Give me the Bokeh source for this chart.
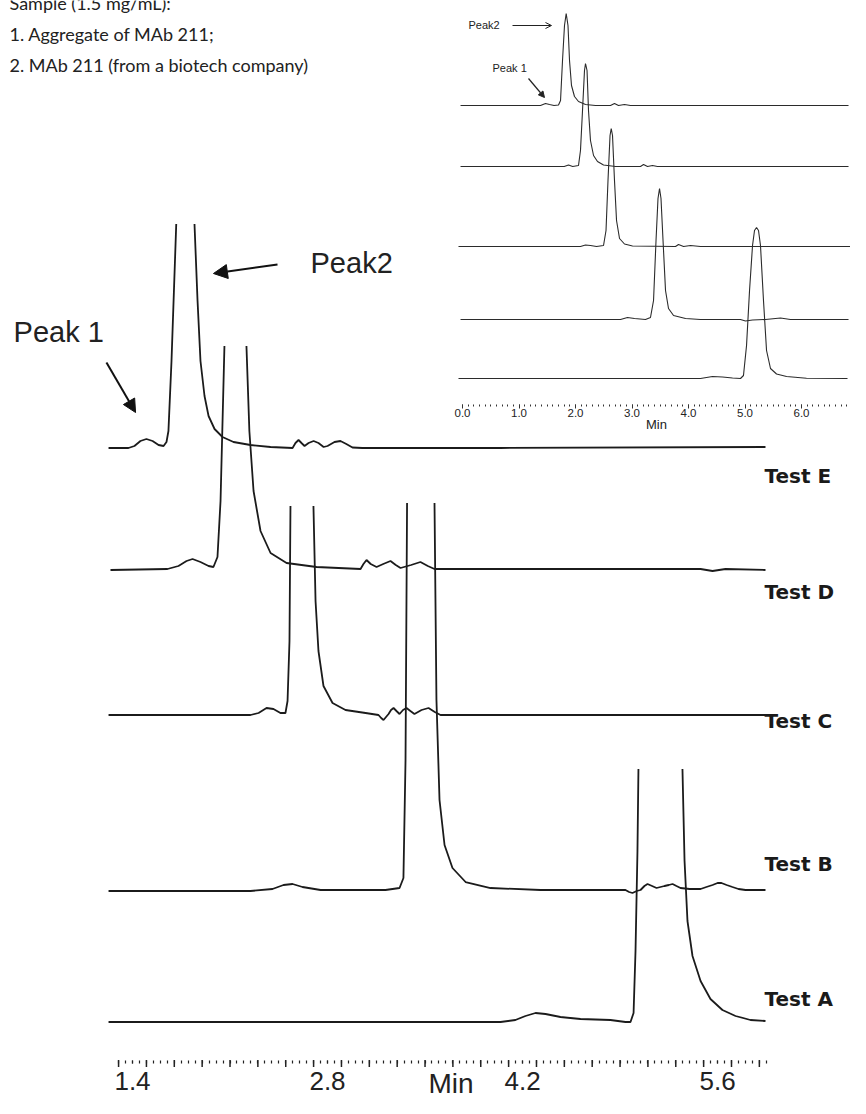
import numpy as np
from bokeh.plotting import figure
from bokeh.models import (Range1d, LinearAxis, FixedTicker, NumeralTickFormatter,
                          Arrow, NormalHead, OpenHead)
from bokeh.core.properties import value
from bokeh.embed import file_html
from bokeh.resources import INLINE

# ---------------- main chromatograms (time in min, signal in arbitrary mAU) ----------------
tests = ["Test E", "Test D", "Test C", "Test B", "Test A"]
stack_offsets = [612, 490, 345, 170, 38]          # vertical offset of each stacked trace
# None = trace goes off the top of the plot (truncated main peak)
e_time = [1.228, 1.371, 1.414, 1.457, 1.500, 1.544, 1.587, 1.623, 1.644, 1.658, 1.680, 1.714, None,
          1.845, 1.867, 1.888, 1.917, 1.946, 1.989, 2.046, 2.125, 2.247, 2.391, 2.549, 2.570, 2.592,
          2.613, 2.635, 2.664, 2.700, 2.735, 2.772, 2.800, 2.850, 2.893, 2.935, 2.979, 3.050,
          4.042, 5.944]
e_signal = [0, 0, 2, 7, 9, 7, 3, 2, 6, 17, 87, 224, None,
            224, 147, 87, 52, 32, 19, 11, 6, 3, 1, 0, 5, 8,
            5, 2, 5, 7, 5, 1, 2, 6, 7, 4, 0.5, 0,
            0, 1]
d_time = [1.242, 1.651, 1.730, 1.788, 1.831, 1.888, 1.946, 1.981, 2.010, 2.032, 2.060, None,
          2.218, 2.239, 2.269, 2.319, 2.391, 2.506, 2.721, 3.037, 3.058, 3.080, 3.110, 3.152, 3.200,
          3.252, 3.290, 3.324, 3.400, 3.467, 3.520, 3.568, 4.760, 5.478, 5.564, 5.657, 5.944]
d_signal = [0, 1, 4, 9, 11, 8, 4, 3, 13, 69, 224, None,
            224, 139, 79, 39, 17, 7, 3, 1, 6, 10, 6, 3, 6,
            9, 5, 2, 5, 8, 4, 1, 1, 1, -1, 1, 0]
c_time = [1.228, 2.247, 2.305, 2.362, 2.412, 2.462, 2.498, 2.513, 2.527, 2.534, None,
          2.699, 2.714, 2.735, 2.771, 2.836, 2.929, 3.073, 3.166, 3.185, 3.202, 3.220, 3.238, 3.256,
          3.274, 3.295, 3.317, 3.342, 3.367, 3.395, 3.424, 3.475, 3.525, 3.570, 3.611, 5.944]
c_signal = [0, 0, 2, 7, 6, 2, 2, 14, 74, 209, None,
            209, 114, 64, 29, 12, 5, 2, 0, -3, -5, -2, 1, 5,
            7, 4, 1, 5, 7, 4, 1, 5, 7, 3, 0, 0]
b_time = [1.228, 2.247, 2.405, 2.484, 2.549, 2.620, 2.750, 3.216, 3.317, 3.345, 3.360, 3.371, None,
          3.568, 3.582, 3.604, 3.640, 3.697, 3.791, 3.970, 4.329, 4.939, 4.965, 4.989, 5.020, 5.047,
          5.075, 5.097, 5.130, 5.162, 5.190, 5.219, 5.250, 5.277, 5.305, 5.334, 5.400, 5.478, 5.520,
          5.564, 5.600, 5.628, 5.665, 5.707, 5.750, 5.801, 5.944]
b_signal = [-1, -1, 1, 5, 6, 3, 0, 0, 2, 12, 130, 387, None,
            387, 190, 90, 45, 22, 8, 2, 0, 0, -2, -3, -1, 0,
            4, 6, 4, 2, 3, 4, 5, 6, 4, 2, 1, 1, 3,
            5, 7, 7, 5, 3, 1, 0, 0]
a_time = [1.228, 4.042, 4.149, 4.221, 4.293, 4.365, 4.472, 4.616, 4.831, 4.939, 4.975, 4.997, 5.011,
          5.025, 5.032, None,
          5.348, 5.363, 5.384, 5.420, 5.478, 5.549, 5.635, 5.729, 5.836, 5.944]
a_signal = [0, 0, 2, 6, 9, 8, 5, 3, 2, 0, 0, 9, 71, 171, 253, None,
            253, 161, 101, 66, 41, 23, 12, 6, 2, 1]
main_times = [e_time, d_time, c_time, b_time, a_time]
main_signals = [e_signal, d_signal, c_signal, b_signal, a_signal]
main_tick_labels = [1.4, 2.8, 4.2, 5.6]

# ---------------- inset chromatograms (full run) ----------------
inset_offsets = [299, 238, 158, 85, 26]
ie_time = [-0.035, 1.381, 1.469, 1.540, 1.620, 1.699, 1.735, 1.770, 1.805, 1.835, 1.867, 1.894,
           1.929, 1.982, 2.053, 2.177, 2.354, 2.619, 2.690, 2.761, 2.867, 2.973, 6.832]
ie_signal = [0, 0, 2, 1, 0, 0.5, 5, 45, 80, 92, 80, 45, 20, 9, 4, 1, 0, 0, 2, 0, 1, 0, 0]
id_time = [-0.035, 1.800, 1.876, 1.950, 2.053, 2.088, 2.124, 2.159, 2.177, 2.204, 2.230, 2.265,
           2.319, 2.389, 2.496, 2.708, 3.150, 3.204, 3.274, 3.363, 3.450, 6.832]
id_signal = [0, 0, 1.5, 0, 1, 16, 56, 96, 103, 96, 56, 26, 11, 5, 1.5, 0, 0, 2, 0, 1, 0, 0]
ic_time = [-0.071, 2.088, 2.177, 2.265, 2.372, 2.496, 2.540, 2.575, 2.611, 2.632, 2.655, 2.690,
           2.726, 2.779, 2.867, 3.009, 3.770, 3.823, 3.912, 4.035, 4.212, 6.885]
ic_signal = [0, 0, 1.5, 1, 0, 1, 16, 66, 111, 118, 111, 66, 26, 8, 2.5, 0.5, 0, 2, 0, 1, 0, 0]
ib_time = [-0.035, 2.796, 2.920, 3.044, 3.239, 3.327, 3.381, 3.425, 3.460, 3.487, 3.513, 3.549,
           3.593, 3.646, 3.735, 3.947, 4.212, 4.920, 5.009, 5.133, 5.363, 5.628, 5.805, 6.832]
ib_signal = [0, 0, 2, 1, 0, 2, 19, 79, 121, 131, 121, 79, 29, 11, 4, 1, 0, 0, -1.5, -0.5, 0,
             1.5, 0, 0]
ia_time = [-0.071, 4.212, 4.425, 4.602, 4.779, 4.920, 4.973, 5.027, 5.080, 5.133, 5.168, 5.204,
           5.239, 5.274, 5.327, 5.381, 5.451, 5.558, 5.735, 6.088, 6.814]
ia_signal = [0, 0, 2, 1.5, 0.5, 0, 3, 33, 88, 133, 148, 151, 148, 133, 78, 28, 10, 4.5, 2, 0.3, 0]
inset_times = [ie_time, id_time, ic_time, ib_time, ia_time]
inset_signals = [ie_signal, id_signal, ic_signal, ib_signal, ia_signal]
inset_tick_labels = [0, 1, 2, 3, 4, 5, 6, 7]

sample_lines = ["Sample (1.5 mg/mL):", "1. Aggregate of MAb 211;",
                "2. MAb 211 (from a biotech company)"]

# ---------------- figure ----------------
p = figure(width=850, height=1098, output_backend="svg", toolbar_location=None,
           x_range=Range1d(0.4524, 6.5543), y_range=Range1d(-38.5, 1059.5),
           x_axis_location=None, y_axis_location=None, min_border=0)
p.extra_x_ranges = {"ix": Range1d(-8.177, 6.867)}
p.extra_y_ranges = {"iy": Range1d(-694, 404)}
p.grid.visible = False
p.outline_line_color = None
p.background_fill_color = "white"
p.border_fill_color = "white"

TRACE = "#1b1b1b"
for t, s, off in zip(main_times, main_signals, stack_offsets):
    x = np.array(t, dtype=float)
    y = off + np.array(s, dtype=float)
    p.line(x, y, line_color=TRACE, line_width=1.8)

for t, s, off in zip(inset_times, inset_signals, inset_offsets):
    x = np.array(t, dtype=float)
    y = off + np.array(s, dtype=float)
    p.line(x, y, line_color="#2b2b2b", line_width=1.1, x_range_name="ix", y_range_name="iy")

# ---------------- main axis ----------------
tall_marks = [round(1.3 + 0.2 * i, 2) for i in range(24)]
minor_marks = [round(1.3 + 0.05 * i, 2) for i in range(94)]
# taller tick marks every 0.2 min hang below the axis line (y = 0)
p.segment(x0=tall_marks, y0=[0] * len(tall_marks), x1=tall_marks, y1=[-7] * len(tall_marks),
          line_color="#222222", line_width=1.5)
ax_main = LinearAxis(ticker=FixedTicker(ticks=main_tick_labels, minor_ticks=minor_marks),
                     formatter=NumeralTickFormatter(format="0.0"),
                     fixed_location=0, bounds=(1.3, 6.07), axis_line_color=None,
                     major_tick_line_color="#222222", minor_tick_line_color="#222222",
                     major_tick_line_width=1.2, minor_tick_line_width=1.2,
                     major_tick_in=0, major_tick_out=3, minor_tick_in=0, minor_tick_out=3,
                     major_label_standoff=9,
                     major_label_text_font="Liberation Sans",
                     major_label_text_font_size="26px", major_label_text_color="#222222",
                     axis_label="Min", axis_label_standoff=-26,
                     axis_label_text_font="Liberation Sans", axis_label_text_font_size="28px",
                     axis_label_text_font_style="normal", axis_label_text_color="#222222")
p.add_layout(ax_main, "below")

# ---------------- inset axis ----------------
inset_minor = [round(0.1 * i, 1) for i in range(70)]
ax_inset = LinearAxis(x_range_name="ix", y_range_name="iy", fixed_location=0, bounds=(0, 7),
                      ticker=FixedTicker(ticks=inset_tick_labels, minor_ticks=inset_minor),
                      formatter=NumeralTickFormatter(format="0.0"),
                      axis_line_color=None,
                      major_tick_line_color="#333333", minor_tick_line_color="#333333",
                      major_tick_line_width=1, minor_tick_line_width=1,
                      major_tick_in=0, major_tick_out=4, minor_tick_in=0, minor_tick_out=2,
                      major_label_standoff=0,
                      major_label_text_font="Liberation Sans",
                      major_label_text_font_size="11.5px", major_label_text_color="#222222",
                      axis_label="Min", axis_label_standoff=-3,
                      axis_label_text_font="Liberation Sans", axis_label_text_font_size="13px",
                      axis_label_text_font_style="normal", axis_label_text_color="#222222")
p.add_layout(ax_inset, "below")

# ---------------- labels and annotations ----------------
label_y = [584.5, 468.5, 339.5, 196.5, 61.5]
p.text(x=[5.937] * 5, y=label_y, text=tests, text_font=value("DejaVu Sans"),
       text_font_style="bold", text_font_size="20px", text_color="#1a1a1a",
       text_baseline="middle", text_align="left")

p.text(x=[0.546], y=[728.5], text=["Peak 1"], text_font=value("Liberation Sans"),
       text_font_size="29px", text_color="#222222", text_baseline="middle")
p.text(x=[2.678], y=[797.5], text=["Peak2"], text_font=value("Liberation Sans"),
       text_font_size="29px", text_color="#222222", text_baseline="middle")
p.add_layout(Arrow(end=NormalHead(size=13, fill_color="#111111", line_color="#111111"),
                   x_start=1.213, y_start=697.5, x_end=1.422, y_end=647.5,
                   line_width=2, line_color="#111111"))
p.add_layout(Arrow(end=NormalHead(size=14, fill_color="#111111", line_color="#111111"),
                   x_start=2.441, y_start=795.5, x_end=1.981, y_end=786.5,
                   line_width=2, line_color="#111111"))

p.text(x=[0.106], y=[380], text=["Peak2"], x_range_name="ix", y_range_name="iy",
       text_font=value("Liberation Sans"), text_font_size="11px", text_color="#222222",
       text_baseline="middle")
p.text(x=[0.531], y=[336.5], text=["Peak 1"], x_range_name="ix", y_range_name="iy",
       text_font=value("Liberation Sans"), text_font_size="11px", text_color="#222222",
       text_baseline="middle")
p.add_layout(Arrow(end=OpenHead(size=6, line_color="#222222", line_width=1),
                   x_start=0.885, y_start=379, x_end=1.575, y_end=379,
                   line_width=1, line_color="#222222", x_range_name="ix", y_range_name="iy"))
p.add_layout(Arrow(end=NormalHead(size=6, fill_color="#222222", line_color="#222222"),
                   x_start=1.168, y_start=326, x_end=1.451, y_end=307,
                   line_width=1.2, line_color="#222222", x_range_name="ix", y_range_name="iy"))

p.text(x=[0.517] * 3, y=[1057.5, 1026.5, 995.5], text=sample_lines,
       text_font=value("Lato"), text_font_size="18px", text_color="#222222",
       text_baseline="middle")

open("out.html", "w").write(file_html(p, INLINE))
